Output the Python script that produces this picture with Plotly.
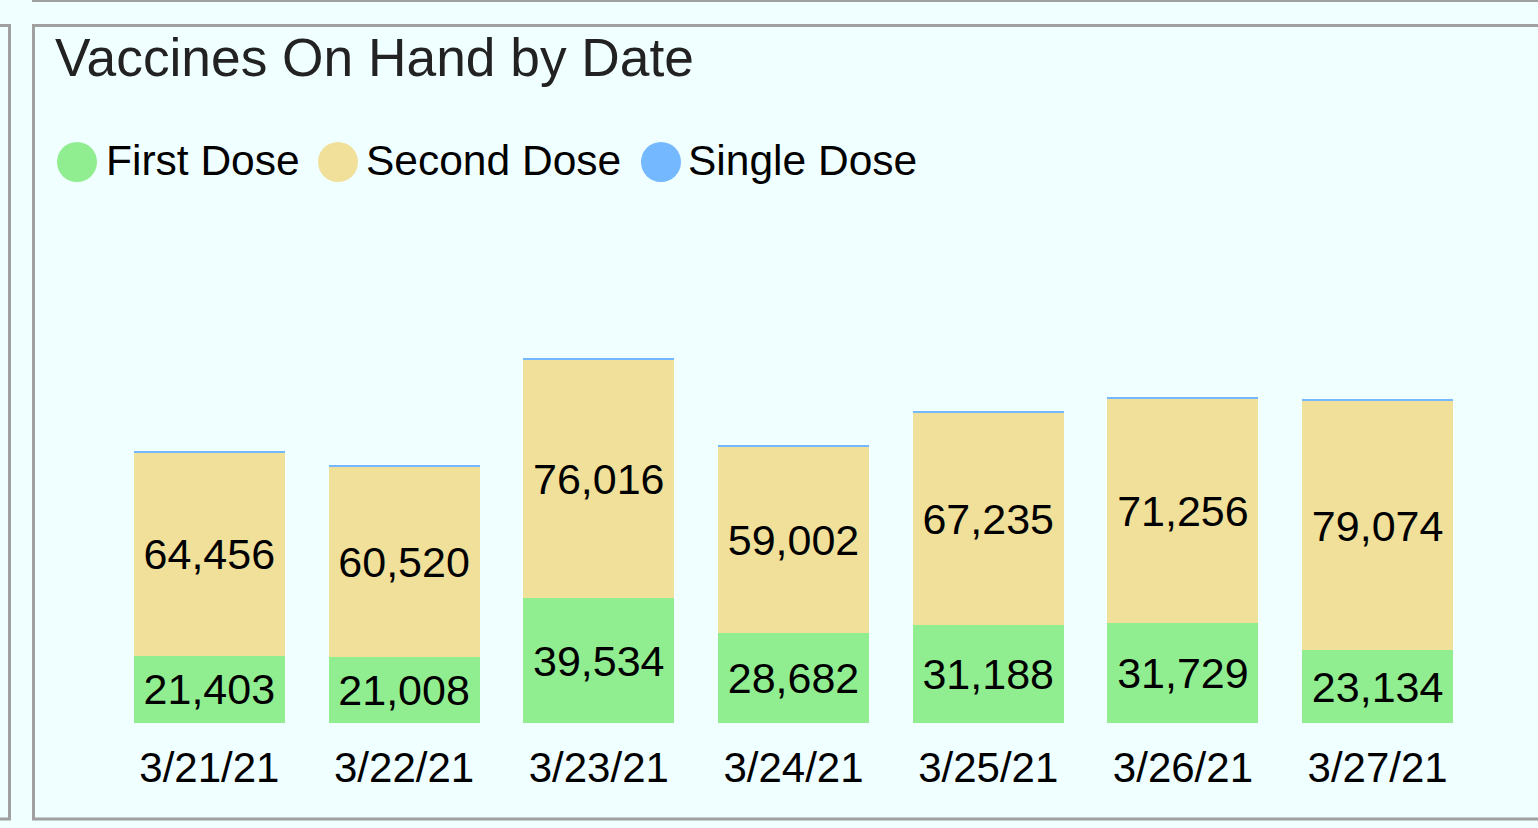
import plotly.graph_objects as go

W, H = 1538, 828

dates = ["3/21/21", "3/22/21", "3/23/21", "3/24/21", "3/25/21", "3/26/21", "3/27/21"]
first_dose = [21403, 21008, 39534, 28682, 31188, 31729, 23134]
second_dose = [64456, 60520, 76016, 59002, 67235, 71256, 79074]
single_dose = [300, 300, 300, 400, 400, 500, 650]

series_names = ["First Dose", "Second Dose", "Single Dose"]
series_colors = ["#90EE90", "#F0E09A", "#74B9FF"]

FONT = "Arial, Liberation Sans, sans-serif"


def px(x):
    return x / W


def py(y):
    return 1 - y / H


fig = go.Figure()
for name, vals, color, show in zip(series_names, [first_dose, second_dose, single_dose],
                                     series_colors, [True, True, False]):
    fig.add_trace(go.Bar(
        x=dates, y=vals, name=name,
        marker=dict(color=color, line=dict(width=0)),
        text=[f"{v:,}" for v in vals] if show else None,
        texttemplate="%{text}" if show else None,
        textposition="inside" if show else "none",
        insidetextanchor="middle",
        textangle=0,
        textfont=dict(family=FONT, size=43, color="#000000"),
        hoverinfo="x+y+name",
    ))

shapes = []
GRAY = "#A0A0A0"
# main panel border
shapes.append(dict(type="rect", xref="paper", yref="paper",
                   x0=px(33.5), x1=px(1560), y0=py(25.5), y1=py(819),
                   line=dict(color=GRAY, width=3), fillcolor="rgba(0,0,0,0)", layer="above"))
# left panel border
shapes.append(dict(type="rect", xref="paper", yref="paper",
                   x0=px(-30), x1=px(9.5), y0=py(25.5), y1=py(819),
                   line=dict(color=GRAY, width=3), fillcolor="rgba(0,0,0,0)", layer="above"))
# top panel border (bottom edge visible)
shapes.append(dict(type="rect", xref="paper", yref="paper",
                   x0=px(33.5), x1=px(1560), y0=py(-60), y1=py(0.5),
                   line=dict(color=GRAY, width=3), fillcolor="rgba(0,0,0,0)", layer="above"))

# custom legend
legend_items = [(77, 104), (338, 364), (661, 686)]
annotations = []
for (cx, tx), name, color in zip(legend_items, series_names, series_colors):
    r = 20
    shapes.append(dict(type="circle", xref="paper", yref="paper",
                       x0=px(cx - r), x1=px(cx + r), y0=py(162 + r), y1=py(162 - r),
                       fillcolor=color, line=dict(width=0)))
    annotations.append(dict(xref="paper", yref="paper", x=px(tx), y=py(161),
                            xanchor="left", yanchor="middle", showarrow=False,
                            text=name, font=dict(family=FONT, size=42.5, color="#000000")))

fig.update_layout(
    width=W, height=H,
    autosize=False,
    barmode="stack",
    bargap=0.224,
    margin=dict(l=0, r=0, t=0, b=0, pad=0),
    paper_bgcolor="#F0FFFF",
    plot_bgcolor="#F0FFFF",
    showlegend=False,
    title=dict(text="Vaccines On Hand by Date", x=px(55), xanchor="left",
               y=py(57), yanchor="middle", xref="paper", yref="paper",
               font=dict(family=FONT, size=53.3, color="#222222")),
    xaxis=dict(domain=[px(112), px(1475)], showline=False, showgrid=False,
               zeroline=False, ticks="", tickfont=dict(family=FONT, size=42, color="#000000"),
               ticklabelstandoff=16),
    yaxis=dict(domain=[py(723), py(220)], range=[0, (723 - 220) / 0.00315],
               visible=False, showgrid=False, zeroline=False),
    shapes=shapes,
    annotations=annotations,
)

fig.write_html("out.html",
               config={"displayModeBar": False},
               post_script="document.body.style.margin='0';document.body.style.overflow='hidden';")
